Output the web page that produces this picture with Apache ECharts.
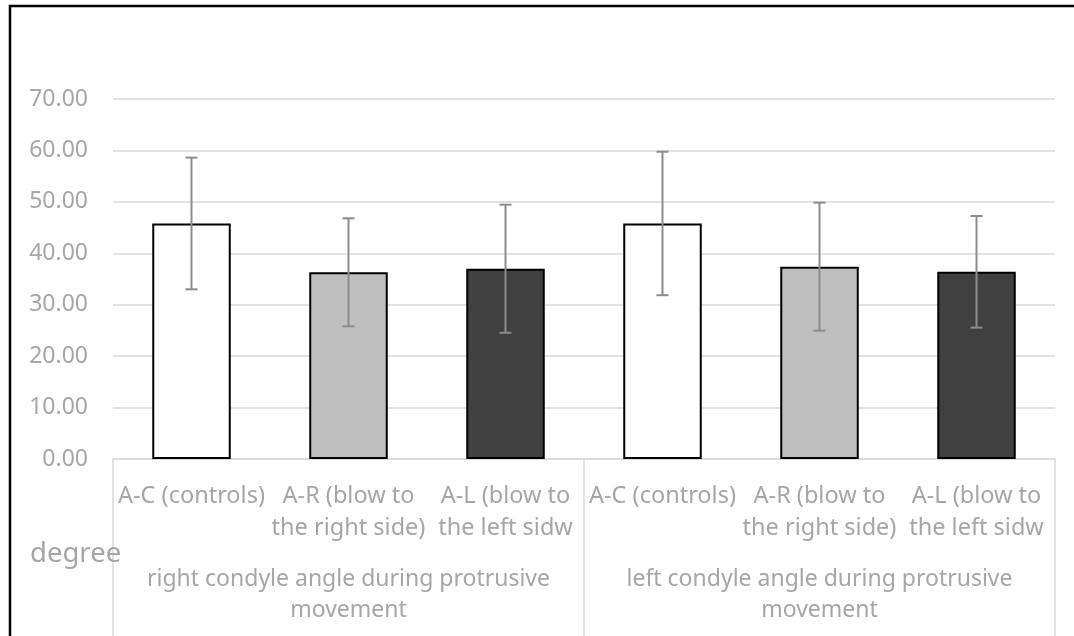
<!DOCTYPE html>
<html>
<head>
<meta charset="utf-8">
<script src="https://cdn.jsdelivr.net/npm/echarts@6/dist/echarts.min.js"></script>
<style>
  html, body { margin: 0; padding: 0; background: #fff; }
  #chart { width: 1074px; height: 636px; }
</style>
</head>
<body>
<div id="chart"></div>
<script>
const categories = [
  "A-C (controls)",
  "A-R (blow to\nthe right side)",
  "A-L (blow to\nthe left sidw",
  "A-C (controls)",
  "A-R (blow to\nthe right side)",
  "A-L (blow to\nthe left sidw",
];
const groups = [
  "right condyle angle during protrusive\nmovement",
  "left condyle angle during protrusive\nmovement",
];
const means = [45.8, 36.3, 37.0, 45.8, 37.4, 36.4];
const sds = [12.8, 10.5, 12.45, 13.95, 12.45, 10.85];
const yTicks = { min: 0, max: 70, interval: 10 };

const barColors = ["#ffffff", "#bfbfbf", "#404040", "#ffffff", "#bfbfbf", "#404040"];
const labelColor = "#a6a6a6";
const lineColor = "#d9d9d9";
const font = "Noto Sans";

const chart = echarts.init(document.getElementById("chart"), null, { renderer: "canvas" });

const barData = means.map((v, i) => ({
  value: v,
  itemStyle: { color: barColors[i], borderColor: "#000", borderWidth: 2 },
}));

const errData = means.map((v, i) => [i, v - sds[i], v + sds[i]]);

chart.setOption({
  animation: false,
  backgroundColor: "#fff",
  title: {
    text: "degree",
    left: 25,
    top: 535,
    textStyle: { color: labelColor, fontFamily: font, fontSize: 27.5, fontWeight: "normal" },
  },
  grid: { left: 113, right: 19, top: 99, bottom: 177 },
  xAxis: [
    {
      type: "category",
      data: categories,
      position: "bottom",
      axisLine: { lineStyle: { color: lineColor, width: 1.5 } },
      axisTick: { show: false },
      axisLabel: {
        interval: 0,
        color: labelColor,
        fontFamily: font,
        fontSize: 23.5,
        lineHeight: 32,
        margin: 21,
        align: "center",
      },
    },
    {
      type: "category",
      data: groups,
      position: "bottom",
      axisLine: { show: false },
      axisTick: { show: true, length: 177, lineStyle: { color: lineColor, width: 1.5 } },
      axisLabel: {
        interval: 0,
        color: labelColor,
        fontFamily: font,
        fontSize: 23,
        lineHeight: 31,
        margin: 105,
        align: "center",
      },
    },
  ],
  yAxis: {
    type: "value",
    min: yTicks.min,
    max: yTicks.max,
    interval: yTicks.interval,
    axisLine: { show: false },
    axisTick: { show: false },
    splitLine: { lineStyle: { color: lineColor, width: 1.5 } },
    axisLabel: {
      color: labelColor,
      fontFamily: font,
      fontSize: 23,
      margin: 25,
      formatter: (v) => v.toFixed(2),
    },
  },
  graphic: [
    {
      type: "rect",
      shape: { x: 10, y: 6, width: 1300, height: 900 },
      style: { fill: "none", stroke: "#000", lineWidth: 2.5 },
      z: 100,
    },
  ],
  series: [
    {
      type: "bar",
      xAxisIndex: 0,
      barWidth: "50%",
      data: barData,
    },
    {
      type: "custom",
      xAxisIndex: 0,
      data: errData,
      encode: { x: 0, y: [1, 2] },
      z: 10,
      renderItem: (params, api) => {
        const idx = api.value(0);
        const lo = api.coord([idx, api.value(1)]);
        const hi = api.coord([idx, api.value(2)]);
        const cap = 6;
        const style = { stroke: "#8c8c8c", lineWidth: 2 };
        return {
          type: "group",
          children: [
            { type: "line", shape: { x1: lo[0], y1: lo[1], x2: hi[0], y2: hi[1] }, style },
            { type: "line", shape: { x1: hi[0] - cap, y1: hi[1], x2: hi[0] + cap, y2: hi[1] }, style },
            { type: "line", shape: { x1: lo[0] - cap, y1: lo[1], x2: lo[0] + cap, y2: lo[1] }, style },
          ],
        };
      },
    },
  ],
});
</script>
</body>
</html>
